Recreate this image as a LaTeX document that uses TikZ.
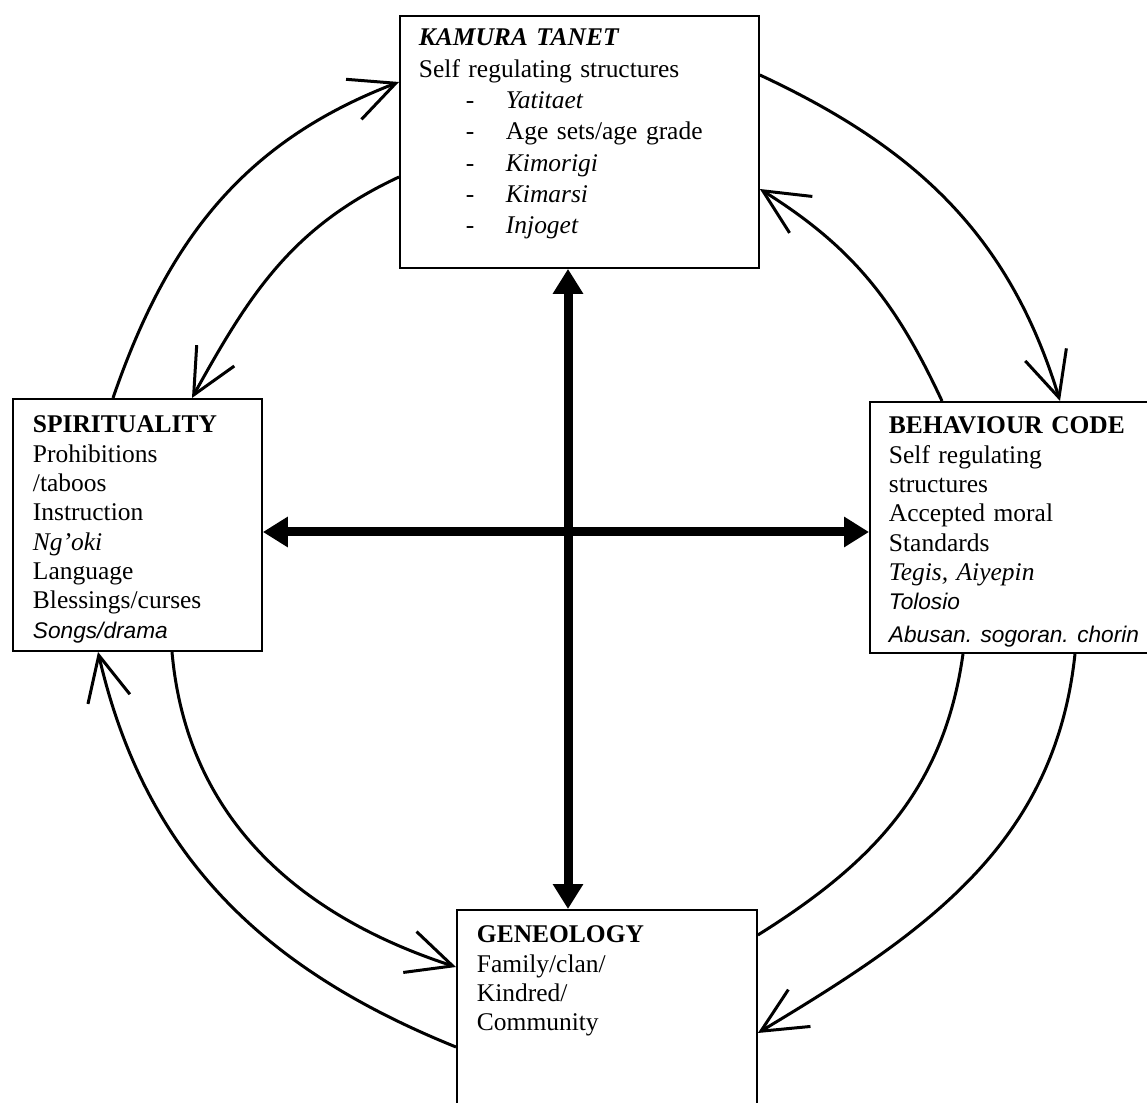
\documentclass[tikz,border=0pt]{standalone}
\usepackage{fontspec}
\setmainfont{Liberation Serif}
\newfontfamily\arialfam{Liberation Sans}
\usepackage{tikz}
\usetikzlibrary{arrows.meta,calc}
\frenchspacing

\newcommand{\kitem}[1]{\hspace*{0.94cm}\makebox[0.8cm][l]{-}#1}
\newcommand{\sansit}[1]{{\arialfam\itshape\fontsize{12.9pt}{16.7pt}\selectfont #1}}

\begin{document}
\begin{tikzpicture}[
    x=0.02cm, y=0.02cm,
    panel/.style={rectangle, draw=black, line width=1.1pt, anchor=north west, inner xsep=0.38cm, inner ysep=0pt, align=left, font=\fontsize{14.5pt}{16.7pt}\selectfont},
    cross/.style={line width=0.18cm, {Triangle[length=0.5cm,width=0.58cm]}-{Triangle[length=0.5cm,width=0.58cm]}},
    link/.style={line width=0.06cm, -{Straight Barb[length=0.9cm,width=0.86cm]}},
    plainlink/.style={line width=0.06cm}
]
\useasboundingbox (0,0) rectangle (1147,1103);
\clip (0,0) rectangle (1147,1103);
% ---------- boxes ----------
\node[panel, text width=6.42cm, text height=0.6cm, text depth=4.44cm, font=\fontsize{14.5pt}{17.8pt}\selectfont] (kam) at (399,1088) {%
  {\bfseries\itshape KAMURA TANET}\\
  Self regulating structures\\
  \kitem{\textit{Yatitaet}}\\
  \kitem{Age sets/age grade}\\
  \kitem{\textit{Kimorigi}}\\
  \kitem{\textit{Kimarsi}}\\
  \kitem{\textit{Injoget}}};
\node[panel, inner xsep=0.4cm, text width=4.18cm, text height=0.68cm, text depth=4.36cm] (spi) at (12,705) {%
  \textbf{SPIRITUALITY}\\
  Prohibitions\\
  /taboos\\
  Instruction\\
  \textit{Ng'oki}\\
  Language\\
  Blessings/curses\\
  \sansit{Songs/drama}};
\node[panel, text width=5.86cm, text height=0.64cm, text depth=4.38cm] (beh) at (869,702) {%
  \textbf{BEHAVIOUR CODE}\\
  Self regulating\\
  structures\\
  Accepted moral\\
  Standards\\
  \textit{Tegis, Aiyepin}\\
  \sansit{Tolosio}\\[0.06cm]
  \sansit{Abusan. sogoran. chorin}};
\node[panel, inner xsep=0.4cm, text width=5.2cm, text height=0.66cm, text depth=4.5cm] (gen) at (456,194) {%
  \textbf{GENEOLOGY}\\
  Family/clan/\\
  Kindred/\\
  Community};
% ---------- cross ----------
\coordinate (hub) at (568,571);
\draw[cross] (hub |- kam.south) -- (hub |- gen.north);
\draw[cross] (hub -| spi.east) -- (hub -| beh.west);
% ---------- loops ----------
\draw[link] ($(spi.north west)+(101,0)$) to[out=71,in=201] ($(kam.north west)+(0,-67)$);
\draw[link] ($(kam.north west)+(0,-162)$) to[out=205,in=61] ($(spi.north west)+(180,0)$);
\draw[link] ($(kam.north east)+(0,-60)$) to[out=-25,in=107] ($(beh.north west)+(191,0)$);
\draw[link] ($(beh.north west)+(73,0)$) to[out=115,in=328] ($(kam.north east)+(0,-174)$);
\draw[link] ($(spi.south west)+(160,0)$) to[out=275,in=162] ($(gen.north west)+(0,-58)$);
\draw[link] ($(gen.north west)+(0,-138)$) to[out=158,in=283] ($(spi.south west)+(86,0)$);
\draw[plainlink] ($(beh.south west)+(94,0)$) to[out=262,in=32] ($(gen.north east)+(0,-26)$);
\draw[link] ($(beh.south west)+(206,0)$) to[out=264,in=31] ($(gen.north east)+(0,-124)$);
\end{tikzpicture}
\end{document}
